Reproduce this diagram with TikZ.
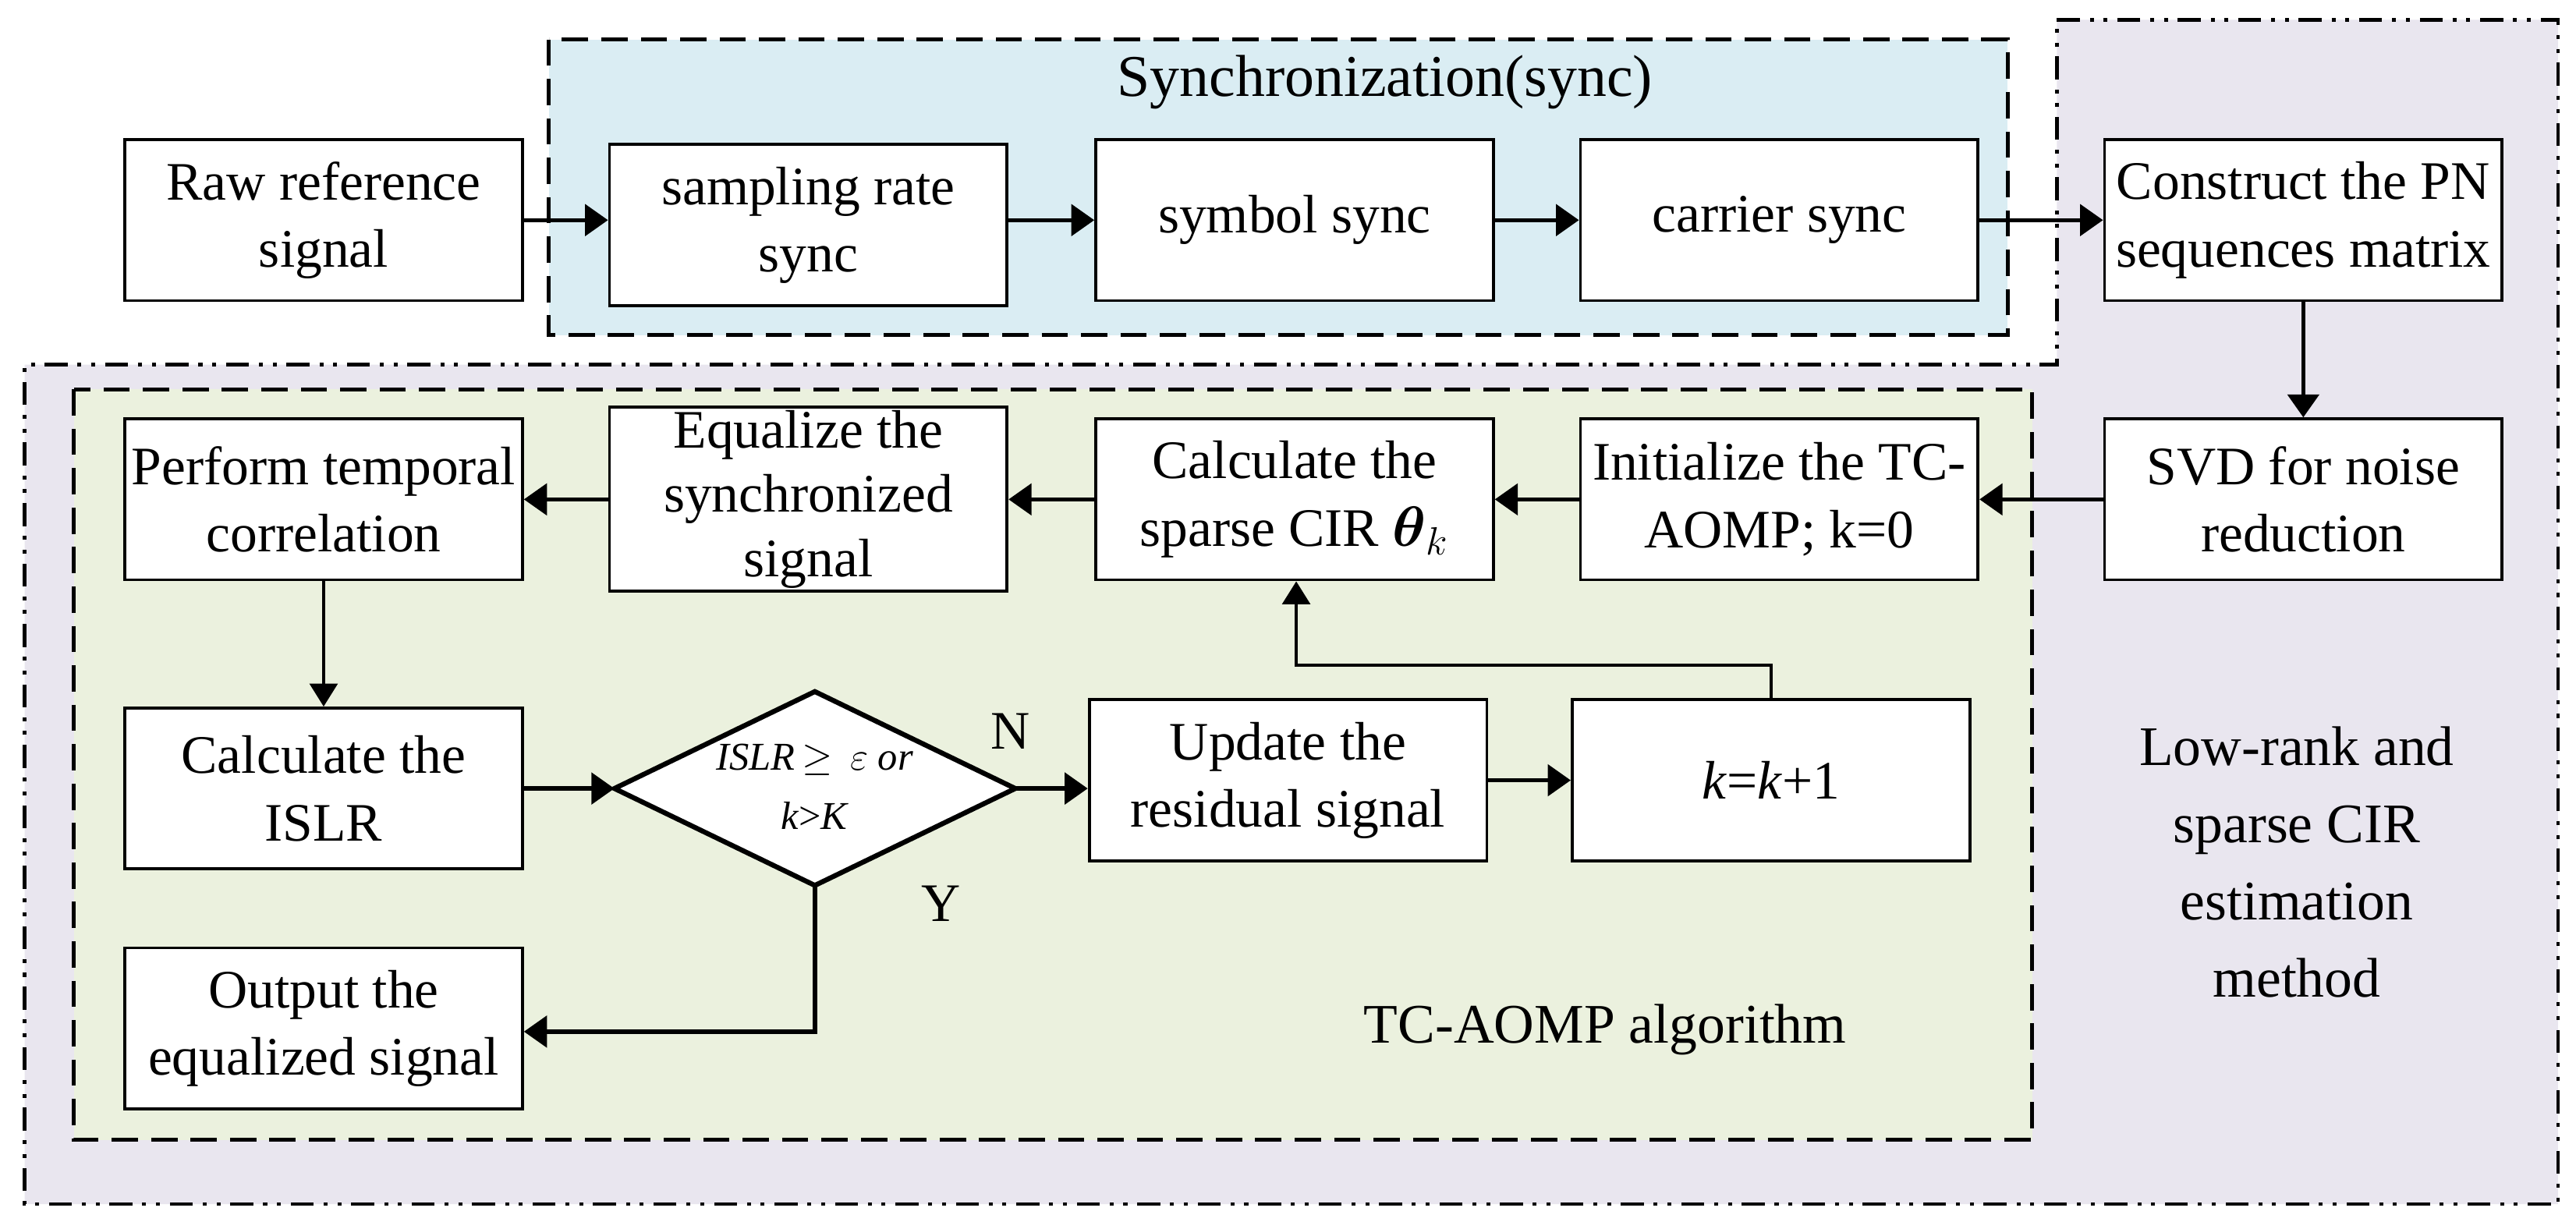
\documentclass[tikz,border=0pt]{standalone}
\usepackage{amsmath}
\usepackage{fontspec}
\setmainfont{Liberation Serif}
\usetikzlibrary{shapes.geometric,arrows.meta}
\definecolor{syncbg}{HTML}{DAEDF3}
\definecolor{lowbg}{HTML}{E9E6EF}
\definecolor{tcbg}{HTML}{EBF1DE}
\begin{document}
\begin{tikzpicture}[x=0.5pt,y=-0.5pt,
  box/.style={draw,fill=white,line width=0.9pt,minimum width=121pt,minimum height=49pt,inner sep=1pt,align=center,font=\fontsize{16.5}{20.5}\selectfont},
  arr/.style={line width=1.3pt,-{Triangle[length=7pt,width=9.5pt]}},
  lbl/.style={font=\fontsize{16.5}{20.5}\selectfont,align=center}]
\useasboundingbox (0,0) rectangle (1568,748);
% outer low-rank region
\draw[fill=lowbg,line width=1.1pt,dash pattern=on 7pt off 3pt on 1.2pt off 3pt on 1.2pt off 3pt]
  (1252,12) -- (1557,12) -- (1557,733) -- (15,733) -- (15,222) -- (1252,222) -- cycle;
% sync box
\draw[fill=syncbg,line width=1.2pt,dash pattern=on 8pt off 4pt] (334,24) rectangle (1222,204);
% TC-AOMP box
\draw[fill=tcbg,line width=1.2pt,dash pattern=on 8pt off 4pt] (45,237) rectangle (1237,694);
\node[lbl,font=\fontsize{18}{22}\selectfont] (synct) at (843,50) {Synchronization(sync)};
\node[lbl,font=\fontsize{17}{21}\selectfont] (tct) at (977,627) {TC-AOMP algorithm};
\node[lbl,font=\fontsize{17}{23.5}\selectfont] (lrt) at (1398,525) {Low-rank and\\sparse CIR\\estimation\\method};
% boxes
\node[box] (raw) at (197,134) {Raw reference\\signal};
\node[box] (samp) at (492,137) {sampling rate\\sync};
\node[box] (sym) at (788,134) {symbol sync};
\node[box] (car) at (1083,134) {carrier sync};
\node[box] (con) at (1402,134) {Construct the PN\\sequences matrix};
\node[box] (perf) at (197,304) {Perform temporal\\correlation};
\node[box,font=\fontsize{16.5}{19.5}\selectfont] (equ) at (492,304) {Equalize the\\synchronized\\signal};
\node[box] (calc) at (788,304) {Calculate the\\sparse CIR $\boldsymbol{\theta}_k$};
\node[box] (init) at (1083,304) {Initialize the TC-\\AOMP; k=0};
\node[box] (svd) at (1402,304) {SVD for noise\\reduction};
\node[box] (islr) at (197,480) {Calculate the\\ISLR};
\coordinate (dw) at (374,480);
\coordinate (dn) at (496,421);
\coordinate (de) at (618,480);
\coordinate (ds) at (496,539);
\draw[fill=white,line width=1.5pt,line join=miter] (dw) -- (dn) -- (de) -- (ds) -- cycle;
\node[align=center,font=\fontsize{12}{18}\selectfont,inner sep=0pt] (dia) at (496,479) {\textit{ISLR}$\,\geq\,\varepsilon$\ \textit{or}\\\textit{k}>\textit{K}};
\node[box] (upd) at (784,475) {Update the\\residual signal};
\node[box] (kk) at (1078,475) {\textit{k}=\textit{k}+1};
\node[box] (out) at (197,626) {Output the\\equalized signal};
\node[lbl] (nl) at (615,445) {N};
\node[lbl] (yl) at (573,550) {Y};
\coordinate (lp1) at (1078,405);
\coordinate (lp2) at (789,405);
\coordinate (yp) at (496,628);
% connectors
\draw[arr] (raw) -- (samp.west |- raw);
\draw[arr] (samp.east |- sym) -- (sym);
\draw[arr] (sym) -- (car);
\draw[arr] (car) -- (con);
\draw[arr] (con) -- (svd);
\draw[arr] (svd) -- (init);
\draw[arr] (init) -- (calc);
\draw[arr] (calc) -- (equ);
\draw[arr] (equ) -- (perf);
\draw[line width=0.9pt,-{Triangle[length=7pt,width=8.5pt]}] (perf) -- (islr);
\draw[arr] (islr.east |- dw) -- (dw);
\draw[arr] (de) -- (upd.west |- de);
\draw[arr] (upd.east |- kk) -- (kk);
\draw[line width=0.9pt,-{Triangle[length=7pt,width=8.5pt]}] (kk.north) -- (lp1) -- (lp2) -- (calc.south -| lp2);
\draw[arr] (ds) -- (yp) -- (out.east |- yp);
\end{tikzpicture}
\end{document}
